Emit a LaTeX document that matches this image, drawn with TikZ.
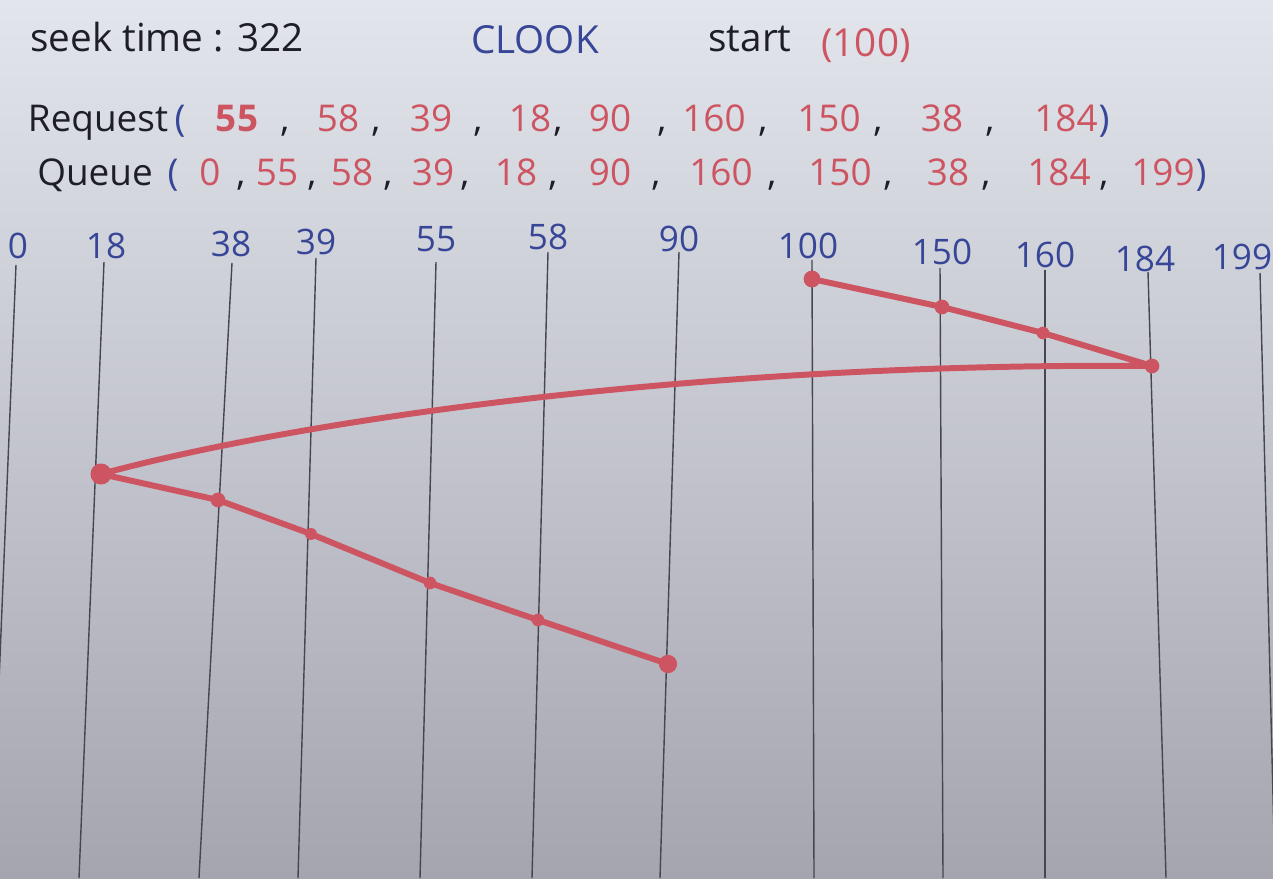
\documentclass[tikz,border=0pt]{standalone}
\usepackage{fontspec}
\setmainfont{Open Sans}
\definecolor{ink}{RGB}{30,30,38}
\definecolor{blueink}{RGB}{55,70,150}
\definecolor{redink}{RGB}{205,85,98}
\definecolor{paperTop}{RGB}{226,229,236}
\definecolor{paperBot}{RGB}{165,165,176}
\definecolor{rule}{RGB}{70,70,80}
\begin{document}
\begin{tikzpicture}[x=0.02cm,y=-0.02cm,
  hand/.style={font=\fontsize{22}{26}\selectfont, inner sep=0pt, anchor=base},
  rowtxt/.style={font=\fontsize{21}{25}\selectfont, inner sep=0pt, anchor=base},
  axlabel/.style={font=\fontsize{20}{24}\selectfont, inner sep=0pt, anchor=base, text=blueink},
  axline/.style={draw=rule, line width=0.8pt},
  redpath/.style={draw=redink, line width=3.4pt, line cap=round, line join=round},
  reddot/.style={fill=redink}]
\useasboundingbox (0,0) rectangle (1273,878);
\shade[top color=paperTop, bottom color=paperBot] (0,0) rectangle (1273,878);

% title line
\node[hand, text=ink] (seek) at (167,52) {seek time : 322};
\node[hand, text=blueink] (clook) at (535,54) {CLOOK};
\node[hand, text=ink] (start) at (750,52) {start};
\node[hand, text=redink] (st100) at (866,57) {(100)};

% request row
\node[rowtxt, text=ink] (req) at (98,132) {Request};
\foreach \x/\t/\c [count=\i] in {180/{(}/blueink, 237/{\textbf{55}}/redink, 285/{,}/ink, 338/{58}/redink, 376/{,}/ink,
  431/{39}/redink, 478/{,}/ink, 530/{18}/redink, 558/{,}/ink, 610/{90}/redink, 662/{,}/ink, 714/{160}/redink, 763/{,}/ink,
  829/{150}/redink, 878/{,}/ink, 942/{38}/redink, 990/{,}/ink, 1066/{184}/redink, 1104/{)}/blueink}
  \node[rowtxt, text=\c] (rq\i) at (\x,132) {\t};

% queue row
\node[rowtxt, text=ink] (que) at (95,186) {Queue};
\foreach \x/\t/\c [count=\i] in {173/{(}/blueink, 210/{0}/redink, 241/{,}/ink, 277/{55}/redink, 312/{,}/ink,
  352/{58}/redink, 388/{,}/ink, 433/{39}/redink, 465/{,}/ink, 516/{18}/redink, 553/{,}/ink, 610/{90}/redink, 656/{,}/ink,
  721/{160}/redink, 772/{,}/ink, 840/{150}/redink, 888/{,}/ink, 948/{38}/redink, 986/{,}/ink, 1059/{184}/redink,
  1104/{,}/ink, 1163/{199}/redink, 1201/{)}/blueink}
  \node[rowtxt, text=\c] (qu\i) at (\x,186) {\t};

% axis labels and vertical lines
\foreach \n/\lx/\ly/\tx/\ty/\bx in {0/18/258/16/265/-9, 18/106/258/104/262/79, 38/231/256/232/263/199,
  39/316/255/316/258/298, 55/436/252/436/262/420, 58/548/250/548/252/532, 90/679/252/679/252/660,
  100/808/258/812/260/814, 150/942/265/940/268/943, 160/1045/268/1045/270/1045,
  184/1145/272/1148/272/1166, 199/1242/270/1260/273/1275}{
  \node[axlabel] (l\n) at (\lx,\ly) {\n};
  \coordinate (t\n) at (\tx,\ty);
  \coordinate (b\n) at (\bx,878);
  \draw[axline] (t\n) -- (b\n);
}

% head movement
\coordinate (d100) at (812,279);
\coordinate (d150) at (942,307);
\coordinate (d160) at (1043,333);
\coordinate (d184) at (1152,366);
\coordinate (d18) at (101,474);
\coordinate (d38) at (218,500);
\coordinate (d39) at (311,534);
\coordinate (d55) at (430,583);
\coordinate (d58) at (538,620);
\coordinate (d90) at (668,664);
\draw[redpath] (d100) -- (d150) -- (d160) -- (d184)
  .. controls (700,362) and (300,420) .. (d18)
  -- (d38) -- (d39) -- (d55) -- (d58) -- (d90);
\fill[reddot] (d100) circle[radius=4.8pt];
\fill[reddot] (d150) circle[radius=4.2pt];
\fill[reddot] (d160) circle[radius=3.6pt];
\fill[reddot] (d184) circle[radius=4.2pt];
\fill[reddot] (d18) circle[radius=6pt];
\fill[reddot] (d38) circle[radius=4.2pt];
\fill[reddot] (d39) circle[radius=3.4pt];
\fill[reddot] (d55) circle[radius=3.6pt];
\fill[reddot] (d58) circle[radius=3.6pt];
\fill[reddot] (d90) circle[radius=5.2pt];
\end{tikzpicture}
\end{document}
